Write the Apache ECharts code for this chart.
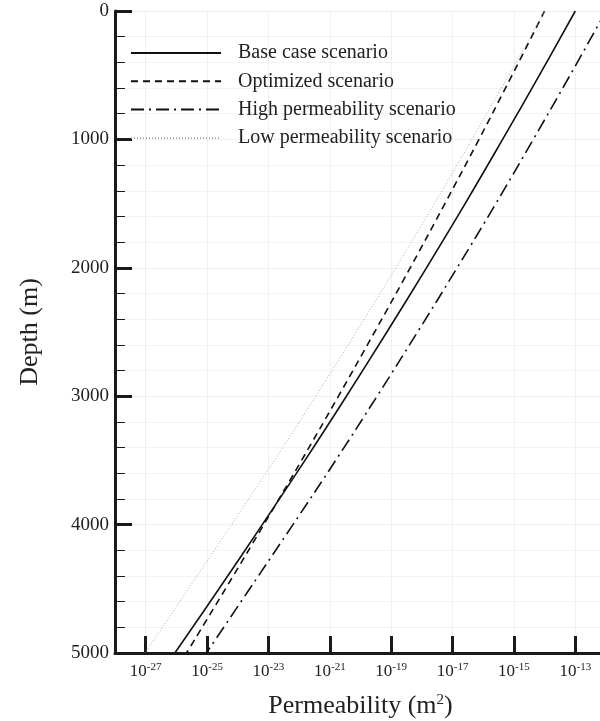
<!DOCTYPE html>
<html>
<head>
<meta charset="utf-8">
<script src="https://cdn.jsdelivr.net/npm/echarts@6/dist/echarts.min.js"></script>
<style>
html,body{margin:0;padding:0;background:#fff;}
#chart{width:600px;height:721px;}
</style>
</head>
<body>
<div id="chart"></div>
<script>
// Depth (m)
const depths = [0, 500, 1000, 1500, 2000, 2500, 3000, 3500, 4000, 4500, 5000];
// Permeability (m^2) per scenario
const baseCase  = [1.00e-13, 6.76e-15, 4.27e-16, 2.57e-17, 1.41e-18, 7.24e-20, 3.47e-21, 1.55e-22, 6.31e-24, 2.45e-25, 8.91e-27];
const optimized = [1.00e-14, 8.71e-16, 7.24e-17, 5.62e-18, 4.17e-19, 2.88e-20, 1.91e-21, 1.20e-22, 7.08e-24, 3.98e-25, 2.14e-26];
const highPerm  = [1.00e-12, 6.76e-14, 4.27e-15, 2.57e-16, 1.41e-17, 7.24e-19, 3.47e-20, 1.55e-21, 6.31e-23, 2.45e-24, 9.50e-26];
const lowPerm   = [1.00e-14, 6.76e-16, 4.27e-17, 2.57e-18, 1.41e-19, 7.24e-21, 3.47e-22, 1.55e-23, 6.31e-25, 2.45e-26, 9.50e-28];
const seriesNames = ['Base case scenario', 'Optimized scenario', 'High permeability scenario', 'Low permeability scenario'];
// x tick labels (exponents of 10)
const xTickExponents = [-27, -25, -23, -21, -19, -17, -15, -13];
const xTickValues = xTickExponents.map(e => Math.pow(10, e));

const FONT = '"Liberation Serif", "DejaVu Serif", serif';
const AX = '#1a1a1a';
const pair = arr => arr.map((v, i) => [v, depths[i]]);

const chart = echarts.init(document.getElementById('chart'), null, {renderer: 'canvas'});
chart.setOption({
  animation: false,
  backgroundColor: '#fff',
  grid: {left: 115, width: 491, top: 11, bottom: 68, outerBoundsMode: 'none', containLabel: false},
  legend: {
    orient: 'vertical', left: 125, top: 38,
    itemWidth: 90, itemHeight: 14, itemGap: 8.3,
    itemStyle: {color: 'rgba(0,0,0,0)', borderColor: 'rgba(0,0,0,0)', borderWidth: 0},
    textStyle: {fontFamily: FONT, fontSize: 20, color: '#222', padding: [0, 0, 0, 12]},
    data: seriesNames
  },
  xAxis: {
    type: 'log', logBase: 10, min: 1e-28, max: 1e-12,
    name: 'Permeability (m{sup|2})',
    nameLocation: 'middle', nameGap: 40,
    nameTextStyle: {
      fontFamily: FONT, fontSize: 26, color: '#222',
      rich: {sup: {fontFamily: FONT, fontSize: 15, verticalAlign: 'top', lineHeight: 14, color: '#222'}}
    },
    axisLine: {show: true, onZero: false, lineStyle: {color: AX, width: 3}},
    axisTick: {show: true, inside: true, length: 17, lineStyle: {color: AX, width: 3}, customValues: xTickValues},
    axisLabel: {
      customValues: xTickValues,
      margin: 9,
      formatter: v => '{b|10}{s|' + Math.round(Math.log10(v)) + '}',
      rich: {
        b: {fontFamily: FONT, fontSize: 17, color: '#222', lineHeight: 20},
        s: {fontFamily: FONT, fontSize: 11, color: '#222', verticalAlign: 'top', lineHeight: 11}
      }
    },
    splitLine: {show: true, lineStyle: {color: '#f0f0f0', width: 1}},
    minorTick: {show: false},
    minorSplitLine: {show: false}
  },
  yAxis: {
    type: 'value', inverse: true, min: 0, max: 5000, interval: 1000,
    name: 'Depth (m)', nameLocation: 'middle', nameGap: 72,
    nameTextStyle: {fontFamily: FONT, fontSize: 26, color: '#222'},
    axisLine: {show: true, onZero: false, lineStyle: {color: AX, width: 3}},
    axisTick: {show: true, inside: true, length: 17, lineStyle: {color: AX, width: 3}},
    minorTick: {show: true, splitNumber: 5, length: 10, lineStyle: {color: AX, width: 1}},
    axisLabel: {fontFamily: FONT, fontSize: 19, color: '#222', margin: 6, formatter: v => String(v)},
    splitLine: {show: true, lineStyle: {color: '#f0f0f0', width: 1}},
    minorSplitLine: {show: true, lineStyle: {color: '#f3f3f3', width: 1}}
  },
  series: [
    {name: seriesNames[0], type: 'line', symbol: 'none', smooth: 0.4, data: pair(baseCase),
     lineStyle: {color: '#111', width: 1.6, type: 'solid'}, itemStyle: {color: '#111'}},
    {name: seriesNames[1], type: 'line', symbol: 'none', smooth: 0.4, data: pair(optimized),
     lineStyle: {color: '#111', width: 1.6, type: [7, 5]}, itemStyle: {color: '#111'}},
    {name: seriesNames[2], type: 'line', symbol: 'none', smooth: 0.4, data: pair(highPerm),
     lineStyle: {color: '#111', width: 1.6, type: [13, 5, 2, 5]}, itemStyle: {color: '#111'}},
    {name: seriesNames[3], type: 'line', symbol: 'none', smooth: 0.4, data: pair(lowPerm),
     lineStyle: {color: '#aaa', width: 1, type: [1, 2]}, itemStyle: {color: '#aaa'}}
  ]
});
</script>
</body>
</html>
